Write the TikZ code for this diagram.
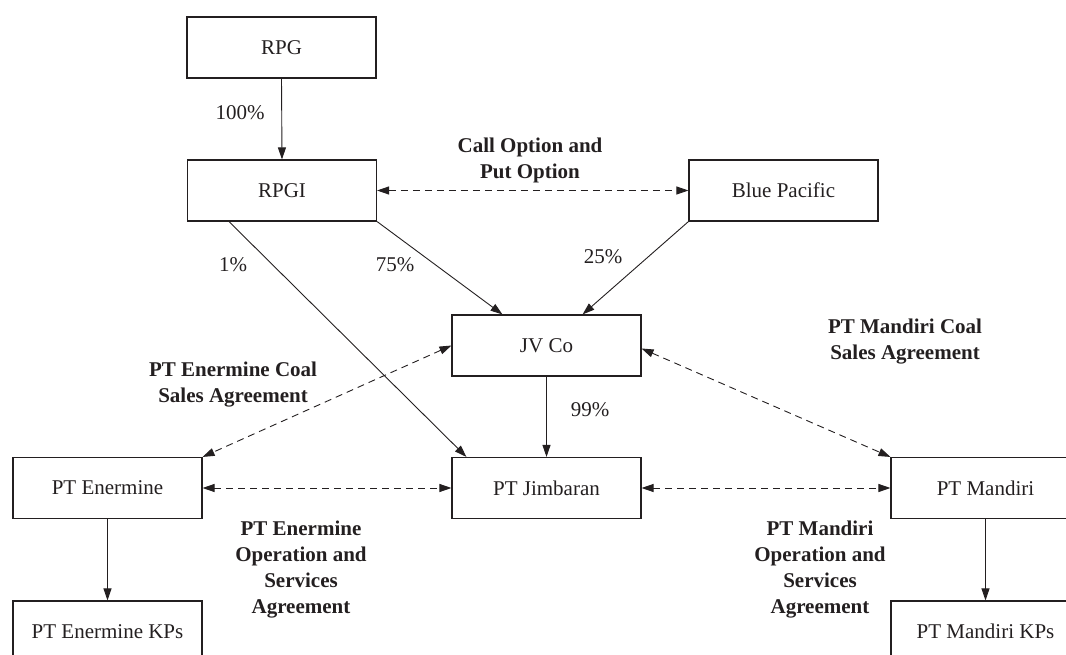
\documentclass[tikz,border=0pt]{standalone}
\usepackage{fontspec}
\setmainfont{Liberation Serif}
\usetikzlibrary{arrows.meta}
\definecolor{ink}{HTML}{231F20}
\tikzset{
  box/.style={draw=ink, line width=1.1pt, minimum width=189pt, minimum height=61pt, inner sep=0pt, text=ink, font=\fontsize{21}{26}\selectfont},
  own/.style={draw=ink, line width=0.9pt, -{Triangle[length=12pt,width=8pt]}},
  agr/.style={draw=ink, line width=0.9pt, dash pattern=on 7pt off 5pt, {Triangle[length=12pt,width=8pt]}-{Triangle[length=12pt,width=8pt]}},
  pct/.style={text=ink, font=\fontsize{21}{26}\selectfont, inner sep=0pt},
  lbl/.style={text=ink, font=\bfseries\fontsize{21}{26}\selectfont, align=center, inner sep=0pt}
}
\begin{document}
\begin{tikzpicture}[x=1pt,y=-1pt]
\useasboundingbox (0,0) rectangle (1066,655);
\clip (0,0) rectangle (1066,655);
\node[box] (rpg) at (281.5,47.5) {RPG};
\node[box] (rpgi) at (282,190.5) {RPGI};
\node[box] (blue) at (783.5,190.5) {Blue Pacific};
\node[box] (jv) at (546.5,345.5) {JV Co};
\node[box] (jim) at (546.5,488) {PT Jimbaran};
\node[box] (ener) at (107.5,488) {PT Enermine};
\node[box] (mand) at (985.5,488) {PT Mandiri};
\node[box] (ekp) at (107.5,631.5) {PT Enermine KPs};
\node[box] (mkp) at (985.5,631.5) {PT Mandiri KPs};

\draw[own] (rpg.south) -- (rpgi.north);
\draw[own] (rpgi.south east) -- ([xshift=51pt]jv.north west);
\draw[own] ([xshift=42pt]rpgi.south west) -- ([xshift=15pt]jim.north west);
\draw[own] (blue.south west) -- ([xshift=-59pt]jv.north east);
\draw[own] (jv.south) -- (jim.north);
\draw[own] (ener.south) -- (ekp.north);
\draw[own] (mand.south) -- (mkp.north);

\draw[agr] (rpgi.east) -- (blue.west);
\draw[agr] (jv.west) -- (ener.north east);
\draw[agr] ([yshift=-3pt]jv.east) -- (mand.north west);
\draw[agr] (ener.east) -- (jim.west);
\draw[agr] (jim.east) -- (mand.west);

\node[pct] (p100) at (240,113) {100\%};
\node[pct] (p1) at (233,265) {1\%};
\node[pct] (p75) at (395,265) {75\%};
\node[pct] (p25) at (603,257) {25\%};
\node[pct] (p99) at (590,410) {99\%};

\node[lbl] (lcall) at (530,160) {Call Option and\\Put Option};
\node[lbl] (lecoal) at (233,385) {PT Enermine Coal\\Sales Agreement};
\node[lbl] (lmcoal) at (905,342) {PT Mandiri Coal\\Sales Agreement};
\node[lbl] (leops) at (301,569.5) {PT Enermine\\Operation and\\Services\\Agreement};
\node[lbl] (lmops) at (820,569.5) {PT Mandiri\\Operation and\\Services\\Agreement};
\end{tikzpicture}
\end{document}
